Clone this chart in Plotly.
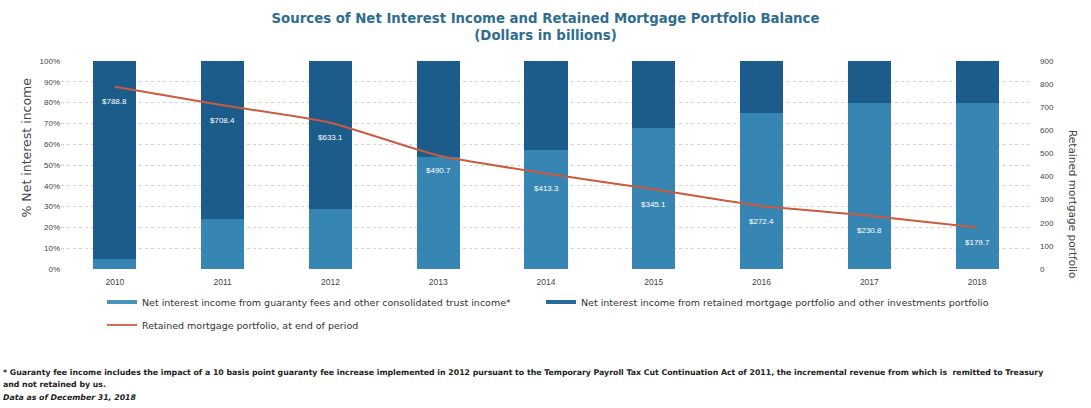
import plotly.graph_objects as go

years = ["2010", "2011", "2012", "2013", "2014", "2015", "2016", "2017", "2018"]
guaranty_pct = [0.05, 0.24, 0.29, 0.54, 0.57, 0.68, 0.75, 0.80, 0.80]
portfolio_pct = [round(1 - v, 2) for v in guaranty_pct]
retained_balance = [788.8, 708.4, 633.1, 490.7, 413.3, 345.1, 272.4, 230.8, 179.7]
balance_labels = ["$%.1f" % v for v in retained_balance]

LIGHT = "#3785b2"
DARK = "#1b5c8b"
RED = "#cc5a3e"
FONT = "Liberation Sans"
WIDE = "DejaVu Sans"

name_g = "Net interest income from guaranty fees and other consolidated trust income*"
name_p = "Net interest income from retained mortgage portfolio and other investments portfolio"
name_r = "Retained mortgage portfolio, at end of period"

W, H = 1091, 408
PL, PT, PW, PH = 61, 61, 970, 208   # plot area in pixels


def px(xr):
    return (xr - PL) / PW


def py(yr):
    return (PT + PH - yr) / PH


fig = go.Figure()
fig.add_trace(go.Bar(x=years, y=guaranty_pct, marker=dict(color=LIGHT, line=dict(width=0)),
                     width=0.4, showlegend=False, name=name_g))
fig.add_trace(go.Bar(x=years, y=portfolio_pct, marker=dict(color=DARK, line=dict(width=0)),
                     width=0.4, showlegend=False, name=name_p))
fig.add_trace(go.Scatter(x=years, y=retained_balance, yaxis="y2", mode="lines",
                         line=dict(color=RED, width=2, shape="spline", smoothing=0.5),
                         showlegend=False, name=name_r))

# legend entries
fig.add_trace(go.Scatter(x=[years[0]], y=[None], mode="lines", line=dict(color="#4a93bd", width=4),
                         name=name_g, legend="legend"))
fig.add_trace(go.Scatter(x=[years[0]], y=[None], mode="lines", line=dict(color="#2a6a9a", width=4),
                         name=name_p, legend="legend2"))
fig.add_trace(go.Scatter(x=[years[0]], y=[None], mode="lines", line=dict(color="#d96a5a", width=2),
                         name=name_r, legend="legend3"))

for i, (val, lab) in enumerate(zip(retained_balance, balance_labels)):
    fig.add_annotation(x=i, y=val, xref="x", yref="y2", text=lab, showarrow=False,
                       yshift=-15, font=dict(family=FONT, size=8, color="white"))

foot1 = ("* Guaranty fee income includes the impact of a 10 basis point guaranty fee increase implemented in 2012 "
         "pursuant to the Temporary Payroll Tax Cut Continuation Act of 2011, the incremental revenue from which is  "
         "remitted to Treasury")
foot2 = "and not retained by us."
foot3 = "<i>Data as of December 31, 2018</i>"
for txt, ypx in [(foot1, 372), (foot2, 384), (foot3, 397)]:
    fig.add_annotation(x=px(1), y=py(ypx), xref="paper", yref="paper", text="<b>" + txt + "</b>",
                       showarrow=False, xanchor="left", yanchor="middle",
                       font=dict(family=WIDE, size=7.8, color="#222"))

# axis titles
fig.add_annotation(x=px(1081), y=py(128), xref="paper", yref="paper",
                   text="Retained mortgage portfolio", textangle=90, showarrow=False,
                   font=dict(family=WIDE, size=10.5, color="#444"))
fig.add_annotation(x=px(16), y=py(148), xref="paper", yref="paper",
                   text="% Net interest income", textangle=-90, showarrow=False,
                   font=dict(family=WIDE, size=12.5, color="#444"))

leg_common = dict(orientation="h", xanchor="left", yanchor="middle",
                  font=dict(family=WIDE, size=9.5, color="#333"), bgcolor="rgba(0,0,0,0)", itemwidth=30)

fig.update_layout(
    width=W, height=H,
    margin=dict(l=PL, r=W - PL - PW, t=PT, b=H - PT - PH, autoexpand=False),
    paper_bgcolor="white", plot_bgcolor="white",
    barmode="stack", bargap=0.6,
    font=dict(family=FONT, color="#444"),
    title=dict(text="<b>Sources of Net Interest Income and Retained Mortgage Portfolio Balance<br>(Dollars in billions)</b>",
               x=0.5, xanchor="center", y=1 - 23 / H, yanchor="middle", yref="container",
               font=dict(family=WIDE, size=13.3, color="#2f6d8e")),
    xaxis=dict(type="category", categoryorder="array", categoryarray=years, showgrid=False,
               showline=False, ticks="", tickfont=dict(size=8.5, color="#444"), ticklabelstandoff=6),
    yaxis=dict(range=[0, 1], dtick=0.1, tickformat=".0%", showgrid=True, gridcolor="#d2d2d2",
               griddash="dot", gridwidth=1, zeroline=False, showline=False, ticks="",
               tickfont=dict(size=8, color="#444")),
    yaxis2=dict(range=[0, 900], dtick=100, overlaying="y", side="right", showgrid=False,
                zeroline=False, showline=False, ticks="", tickfont=dict(size=8, color="#444"),
                ticklabelstandoff=8),
    legend=dict(x=px(107 - 5), y=py(302), **leg_common),
    legend2=dict(x=px(546 - 5), y=py(302), **leg_common),
    legend3=dict(x=px(107 - 5), y=py(325), **leg_common),
)

fig.write_html("out.html", config={"displayModeBar": False},
               post_script="document.body.style.margin='0';")
